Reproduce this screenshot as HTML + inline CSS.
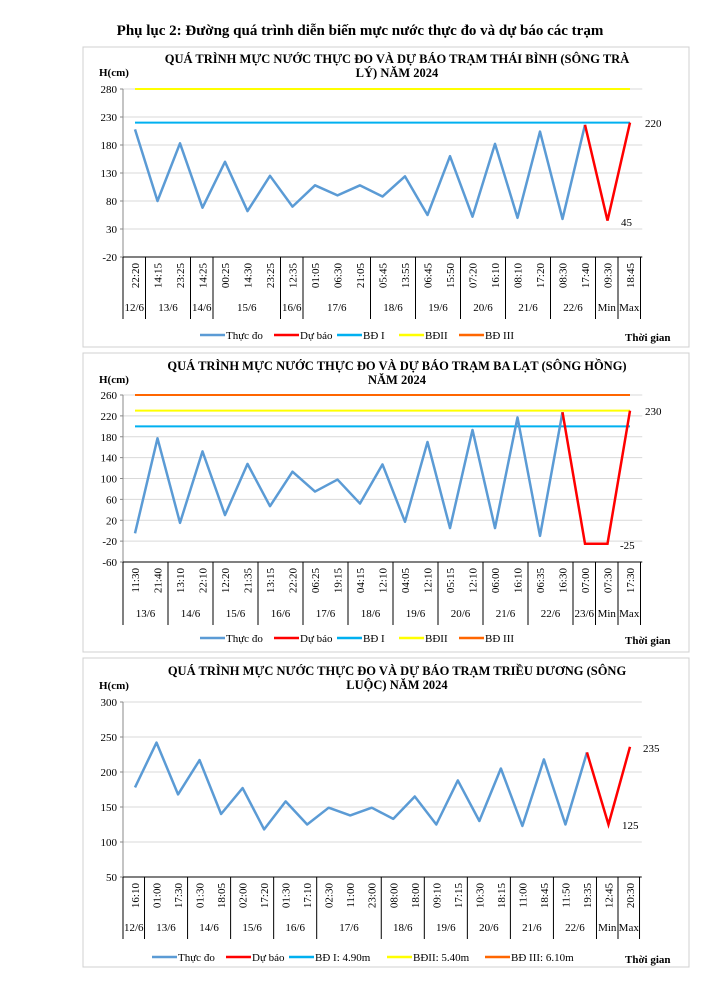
<!DOCTYPE html>
<html><head><meta charset="utf-8"><style>
body{margin:0;background:#fff;width:707px;height:981px;overflow:hidden}
svg{display:block}
text{font-family:"Liberation Serif",serif}
</style></head><body>
<svg id="s" width="707" height="981" xmlns="http://www.w3.org/2000/svg"></svg>
<script>
const S=document.getElementById('s');let h='';
h+='<text x="360" y="35" text-anchor="middle" font-size="15" font-weight="bold">Phụ lục 2: Đường quá trình diễn biến mực nước thực đo và dự báo các trạm</text>';
function chart(c){
 const {bx,by,bw,bh,t1,t2,ty,ymax,ymin,step,yTop,yBot,x0,x1,times,groups,obs,fc,lines,anns,dateY,legY,legs}=c;
 h+=`<rect x="${bx}" y="${by}" width="${bw}" height="${bh}" fill="#fff" stroke="#d0d0d0"/>`;
 h+=`<text x="397" y="${ty}" text-anchor="middle" font-size="12.5" font-weight="bold">${t1}</text>`;
 h+=`<text x="397" y="${ty+14}" text-anchor="middle" font-size="12.5" font-weight="bold">${t2}</text>`;
 h+=`<text x="99" y="${c.hy}" font-size="11" font-weight="bold">H(cm)</text>`;
 const Y=v=>yBot-(v-ymin)/(ymax-ymin)*(yBot-yTop);
 const n=times.length,dx=(x1-x0)/(n-1),X=i=>x0+i*dx;
 const L=123,R=x1+dx/2+1;
 for(let v=ymin;v<=ymax;v+=step){const y=Y(v);
  if(v>ymin)h+=`<line x1="${L}" x2="${R}" y1="${y}" y2="${y}" stroke="#d9d9d9"/>`;
  h+=`<line x1="${L-3}" x2="${L}" y1="${y}" y2="${y}" stroke="#888"/>`;
  h+=`<text x="${L-6}" y="${y+4}" text-anchor="end" font-size="11">${v}</text>`;}
 h+=`<line x1="${L}" x2="${L}" y1="${yTop}" y2="${yBot}" stroke="#888"/>`;
 lines.forEach(l=>{h+=`<line x1="${X(0)}" x2="${X(n-1)}" y1="${Y(l[0])}" y2="${Y(l[0])}" stroke="${l[1]}" stroke-width="2"/>`;});
 h+=`<polyline fill="none" stroke="#5b9bd5" stroke-width="2.5" stroke-linejoin="round" points="${obs.map((v,i)=>X(i)+','+Y(v)).join(' ')}"/>`;
 const s=obs.length-1;
 h+=`<polyline fill="none" stroke="#ff0000" stroke-width="2.5" points="${fc.map((v,i)=>X(s+i)+','+Y(v)).join(' ')}"/>`;
 anns.forEach(a=>h+=`<text x="${a[0]}" y="${a[1]}" font-size="11">${a[2]}</text>`);
 const tb=dateY+8;
 h+=`<line x1="${L}" x2="${R}" y1="${yBot}" y2="${yBot}" stroke="#000"/>`;
 times.forEach((t,i)=>{const x=X(i)+4,y=yBot+6;h+=`<text transform="translate(${x},${y}) rotate(-90)" text-anchor="end" font-size="11">${t}</text>`;});
 let idx=0;h+=`<line x1="${L}" x2="${L}" y1="${yBot}" y2="${tb}" stroke="#000"/>`;
 groups.forEach(g=>{const a=L+idx*dx,b=L+(idx+g[1])*dx;
  h+=`<line x1="${b}" x2="${b}" y1="${yBot}" y2="${tb}" stroke="#000"/>`;
  h+=`<text x="${(a+b)/2}" y="${dateY}" text-anchor="middle" font-size="11">${g[0]}</text>`;idx+=g[1];});
 const cols=['#5b9bd5','#ff0000','#00b0f0','#ffff00','#ff6600'];
 let lx=legs[0];
 legs[1].forEach((t,i)=>{h+=`<line x1="${lx}" x2="${lx+25}" y1="${legY-3}" y2="${legY-3}" stroke="${cols[i]}" stroke-width="2.5"/>`;
  h+=`<text x="${lx+26}" y="${legY+1}" font-size="11">${t}</text>`;lx+=26+legs[2][i];});
 h+=`<text x="625" y="${legY+3}" font-size="11" font-weight="bold">Thời gian</text>`;
}
chart({bx:83,by:47,bw:606,bh:300,ty:63,t1:'QUÁ TRÌNH MỰC NƯỚC THỰC ĐO VÀ DỰ BÁO TRẠM THÁI BÌNH (SÔNG TRÀ',t2:'LÝ) NĂM 2024',hy:76,
 ymax:280,ymin:-20,step:50,yTop:89,yBot:257,x0:135,x1:630,
 times:['22:20','14:15','23:25','14:25','00:25','14:30','23:25','12:35','01:05','06:30','21:05','05:45','13:55','06:45','15:50','07:20','16:10','08:10','17:20','08:30','17:40','09:30','18:45'],
 groups:[['12/6',1],['13/6',2],['14/6',1],['15/6',3],['16/6',1],['17/6',3],['18/6',2],['19/6',2],['20/6',2],['21/6',2],['22/6',2],['Min',1],['Max',1]],
 obs:[208,80,183,68,150,62,125,70,108,90,108,88,124,55,160,52,182,50,204,48,216],fc:[216,45,220],
 lines:[[280,'#ffff00'],[220,'#00b0f0']],anns:[[645,127,'220'],[621,226,'45']],dateY:311,legY:338,
 legs:[200,['Thực đo','Dự báo','BĐ I','BĐII','BĐ III'],[48,37,36,34,40]]});
chart({bx:83,by:353,bw:606,bh:299,ty:370,t1:'QUÁ TRÌNH MỰC NƯỚC THỰC ĐO VÀ DỰ BÁO TRẠM BA LẠT (SÔNG HỒNG)',t2:'NĂM 2024',hy:383,
 ymax:260,ymin:-60,step:40,yTop:395,yBot:562,x0:135,x1:630,
 times:['11:30','21:40','13:10','22:10','12:20','21:35','13:15','22:20','06:25','19:15','04:15','12:10','04:05','12:10','05:15','12:10','06:00','16:10','06:35','16:30','07:00','07:30','17:30'],
 groups:[['13/6',2],['14/6',2],['15/6',2],['16/6',2],['17/6',2],['18/6',2],['19/6',2],['20/6',2],['21/6',2],['22/6',2],['23/6',1],['Min',1],['Max',1]],
 obs:[-5,177,15,152,30,128,47,113,75,98,52,127,17,170,5,193,5,217,-10,227],fc:[227,-25,-25,230],
 lines:[[260,'#ff6600'],[230,'#ffff00'],[200,'#00b0f0']],anns:[[645,415,'230'],[620,549,'-25']],dateY:617,legY:641,
 legs:[200,['Thực đo','Dự báo','BĐ I','BĐII','BĐ III'],[48,37,36,34,40]]});
chart({bx:83,by:658,bw:606,bh:309,ty:675,t1:'QUÁ TRÌNH MỰC NƯỚC THỰC ĐO VÀ DỰ BÁO TRẠM TRIỀU DƯƠNG (SÔNG',t2:'LUỘC) NĂM 2024',hy:689,
 ymax:300,ymin:50,step:50,yTop:702,yBot:877,x0:135,x1:630,
 times:['16:10','01:00','17:30','01:30','18:05','02:00','17:20','01:30','17:10','02:30','11:00','23:00','08:00','18:00','09:10','17:15','10:30','18:15','11:00','18:45','11:50','19:35','12:45','20:30'],
 groups:[['12/6',1],['13/6',2],['14/6',2],['15/6',2],['16/6',2],['17/6',3],['18/6',2],['19/6',2],['20/6',2],['21/6',2],['22/6',2],['Min',1],['Max',1]],
 obs:[178,242,168,217,140,177,118,158,125,149,138,149,133,165,125,188,130,205,123,218,125,228],fc:[228,125,236],
 lines:[],anns:[[643,752,'235'],[622,829,'125']],dateY:931,legY:960,
 legs:[152,['Thực đo','Dự báo','BĐ I: 4.90m','BĐII: 5.40m','BĐ III: 6.10m'],[48,37,72,72,75]]});
S.innerHTML=h;
</script>
</body></html>
